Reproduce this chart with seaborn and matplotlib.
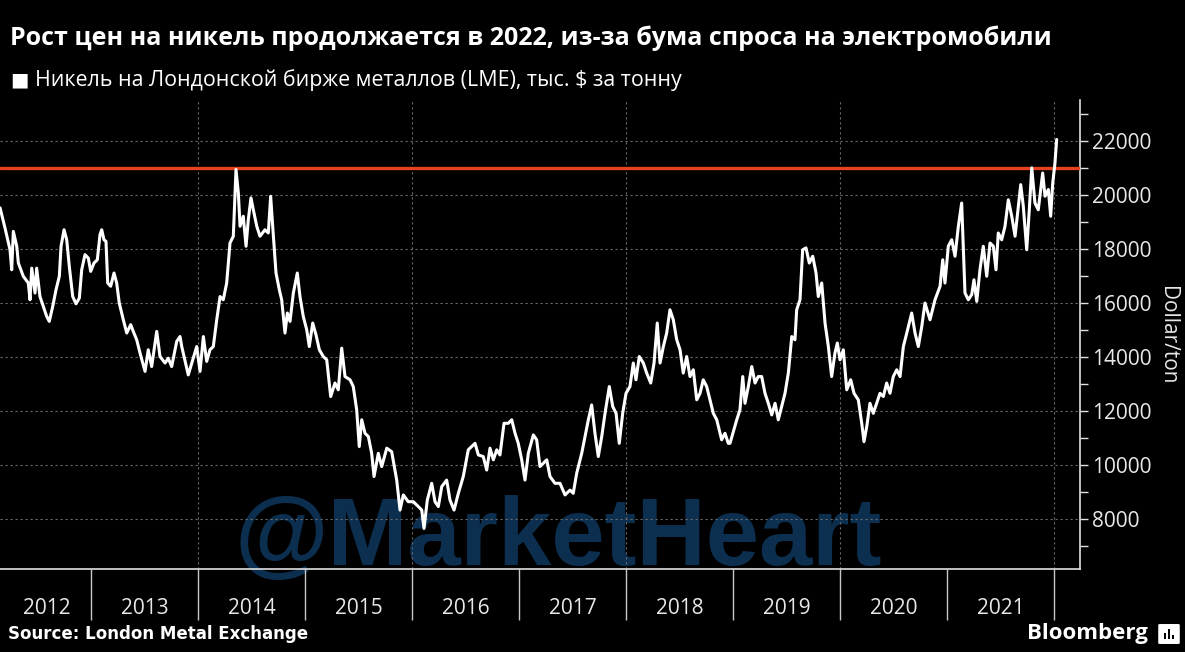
import numpy as np
import pandas as pd
import seaborn as sns
import matplotlib.pyplot as plt
from matplotlib.ticker import FixedLocator, StrMethodFormatter
from matplotlib.patches import FancyBboxPatch, Rectangle

title = 'Рост цен на никель продолжается в 2022, из-за бума спроса на электромобили'
subtitle = 'Никель на Лондонской бирже металлов (LME), тыс. $ за тонну'
source = 'Source: London Metal Exchange'
y_label = 'Dollar/ton'
watermark = '@MarketHeart'

# годы на оси: подписи в середине года, разделители на границах
year_labels = ['2012', '2013', '2014', '2015', '2016', '2017', '2018', '2019', '2020', '2021']
year_label_pos = [2012.59, 2013.5, 2014.5, 2015.5, 2016.5, 2017.5, 2018.5, 2019.5, 2020.5, 2021.5]
year_bounds = [2013, 2014, 2015, 2016, 2017, 2018, 2019, 2020, 2021, 2022]
grid_years = [2014, 2016, 2018, 2020, 2022]
y_major = [8000, 10000, 12000, 14000, 16000, 18000, 20000, 22000]
y_minor = [7000, 9000, 11000, 13000, 15000, 17000, 19000, 21000, 23000]
level = 21000

# цена никеля LME, $/т
dates = [
    2012.150, 2012.196, 2012.243, 2012.259, 2012.274, 2012.306, 2012.321, 2012.367, 2012.414, 2012.430,
    2012.446, 2012.477, 2012.492, 2012.523, 2012.586, 2012.610, 2012.642, 2012.673, 2012.704, 2012.720,
    2012.748, 2012.773, 2012.797, 2012.829, 2012.860, 2012.891, 2012.913, 2012.944, 2012.975, 2012.997,
    2013.028, 2013.059, 2013.084, 2013.100, 2013.121, 2013.140, 2013.156, 2013.184, 2013.215, 2013.240,
    2013.264, 2013.302, 2013.334, 2013.371, 2013.395, 2013.427, 2013.458, 2013.505, 2013.535, 2013.567,
    2013.614, 2013.645, 2013.692, 2013.722, 2013.754, 2013.801, 2013.832,
    2013.848, 2013.909, 2013.988, 2014.019, 2014.050, 2014.081, 2014.112, 2014.143, 2014.175, 2014.206,
    2014.236, 2014.268, 2014.299, 2014.330, 2014.355, 2014.377, 2014.393, 2014.423, 2014.449, 2014.470,
    2014.495, 2014.517, 2014.549, 2014.579, 2014.626, 2014.657, 2014.679, 2014.698, 2014.729, 2014.760,
    2014.782, 2014.813, 2014.835, 2014.860, 2014.891, 2014.928, 2014.953, 2014.984, 2015.016, 2015.040,
    2015.072, 2015.103, 2015.134, 2015.171, 2015.203, 2015.240, 2015.280, 2015.311, 2015.343, 2015.374,
    2015.421,
    2015.451, 2015.483, 2015.507, 2015.530, 2015.561, 2015.592, 2015.623, 2015.645, 2015.685, 2015.717,
    2015.764, 2015.810, 2015.857, 2015.888, 2015.919, 2015.965, 2016.012, 2016.059, 2016.091, 2016.112,
    2016.143, 2016.184, 2016.215, 2016.246, 2016.278, 2016.324, 2016.355, 2016.393, 2016.433, 2016.479,
    2016.526, 2016.558, 2016.589, 2016.620, 2016.666, 2016.698, 2016.729, 2016.760, 2016.792, 2016.822,
    2016.860, 2016.900, 2016.932, 2016.963, 2016.993, 2017.025, 2017.056, 2017.087, 2017.134, 2017.165,
    2017.196,
    2017.259, 2017.290, 2017.336, 2017.383, 2017.430, 2017.477, 2017.507, 2017.539, 2017.586, 2017.617,
    2017.648, 2017.679, 2017.710, 2017.741, 2017.773, 2017.804, 2017.844, 2017.876, 2017.907, 2017.937,
    2017.969, 2018.000, 2018.037, 2018.068, 2018.093, 2018.124, 2018.162, 2018.193, 2018.231, 2018.262,
    2018.292, 2018.318, 2018.349, 2018.380, 2018.411, 2018.442, 2018.474, 2018.505, 2018.535, 2018.567,
    2018.598, 2018.629, 2018.661, 2018.692, 2018.722, 2018.754, 2018.785, 2018.816, 2018.848, 2018.894,
    2018.925, 2018.956,
    2018.972, 2019.035, 2019.065, 2019.091, 2019.112, 2019.143, 2019.175, 2019.206, 2019.236, 2019.268,
    2019.299, 2019.330, 2019.362, 2019.393, 2019.423, 2019.455, 2019.486, 2019.517, 2019.549, 2019.579,
    2019.595, 2019.626, 2019.651, 2019.682, 2019.713, 2019.745, 2019.776, 2019.797, 2019.829, 2019.860,
    2019.891, 2019.922, 2019.953, 2019.975, 2020.000, 2020.031, 2020.063, 2020.100, 2020.131, 2020.171,
    2020.203, 2020.224, 2020.250, 2020.280, 2020.311, 2020.343, 2020.374, 2020.405, 2020.436, 2020.467,
    2020.498, 2020.530,
    2020.561, 2020.592, 2020.624, 2020.670, 2020.701, 2020.732, 2020.764, 2020.794, 2020.841, 2020.888,
    2020.935, 2020.960, 2020.981, 2021.012, 2021.044, 2021.075, 2021.106, 2021.137, 2021.152, 2021.168,
    2021.199, 2021.231, 2021.252, 2021.278, 2021.308, 2021.339, 2021.371, 2021.402, 2021.433, 2021.458,
    2021.479, 2021.511, 2021.542, 2021.573, 2021.605, 2021.636, 2021.667, 2021.689, 2021.713, 2021.745,
    2021.769, 2021.792, 2021.822, 2021.853, 2021.894, 2021.916, 2021.947, 2021.969, 2021.988, 2022.009,
    2022.025,
]
price = [
    19510, 18770, 17960, 17220, 18640, 18090, 17470, 16980, 16730, 16110,
    17280, 16360, 17280, 16230, 15490, 15310, 15860, 16480, 16980, 18090,
    18700, 18330, 17350, 16230, 15960, 16170, 17220, 17780, 17650, 17160,
    17470, 17590, 18520, 18700, 18330, 18270, 16730, 16610, 17100, 16730,
    15990, 15370, 14880, 15190, 14940, 14630, 14140, 13460, 14260, 13640,
    14940, 14010, 13770, 13950, 13640, 14570, 14750,
    14380, 13330, 14380, 13460, 14750, 13830, 14260, 14380, 15370, 16230,
    16110, 16730, 18210, 18460, 20930, 20060, 18830, 19200, 18090, 19070,
    19880, 19440, 18830, 18460, 18700, 18580, 19940, 18830, 17100, 16480,
    16110, 14880, 15620, 15310, 16360, 17100, 16230, 15490, 15000, 14380,
    15250, 14810, 14260, 14010, 13890, 12530, 13030, 12780, 14320, 13270,
    13150,
    12900, 12040, 10680, 11670, 11170, 11050, 10430, 9570, 10430, 9940,
    10620, 10490, 9440, 8330, 8890, 8640, 8640, 8460, 8330, 7650,
    8700, 9320, 8640, 8460, 9200, 9440, 8700, 8330, 8950, 9570,
    10560, 10680, 10800, 10370, 10310, 9810, 10620, 10190, 10560, 10370,
    11540, 11540, 11670, 11170, 10800, 10190, 9440, 10430, 11110, 10930,
    9940,
    10190, 9570, 9320, 9320, 8890, 9070, 8950, 9690, 10430, 11050,
    11670, 12220, 11170, 10310, 11050, 11910, 12900, 12160, 11910, 10800,
    11910, 12650, 12900, 13770, 13150, 14010, 13770, 13400, 13030, 13770,
    15250, 13770, 14380, 14880, 15740, 15370, 14630, 14260, 13400, 14010,
    13270, 13520, 12410, 12650, 13150, 12900, 12410, 11910, 11670, 10930,
    11170, 10800,
    10800, 11670, 12040, 13270, 12280, 12900, 13640, 13030, 13270, 13270,
    12650, 12280, 11850, 12280, 11670, 12160, 12650, 13400, 14750, 14630,
    15740, 16110, 17960, 18030, 17470, 17720, 17100, 16230, 16730, 15250,
    14380, 13270, 14140, 14510, 13890, 14260, 12780, 13150, 12650, 12410,
    11540, 10860, 11420, 12280, 11910, 12280, 12650, 12530, 13030, 12650,
    13270, 13520,
    13270, 14380, 14880, 15620, 14880, 14380, 15120, 15990, 15370, 16110,
    16610, 17590, 16730, 18090, 18330, 17720, 18830, 19690, 18090, 16360,
    16110, 16300, 16850, 16050, 17220, 18090, 16980, 18210, 18090, 17220,
    18580, 18330, 18830, 19810, 19200, 18460, 19570, 20370, 19570, 17960,
    19440, 20990, 19690, 19440, 20800, 19940, 20190, 19200, 20430, 21170,
    22040,
]

df = pd.DataFrame({'date': dates, 'price': price})

sns.set_style('dark')
plt.rcParams['font.family'] = ['Open Sans', 'DejaVu Sans']

fig = plt.figure(figsize=(11.85, 6.52), dpi=100, facecolor='black')
ax = fig.add_axes([0, 0.1273, 0.9114, 0.7193])
ax.set_facecolor('black')

ax.text(0.517, 0.008, watermark, transform=ax.transAxes, ha='center', va='baseline',
        fontsize=69, fontweight='bold', color='#0c2f50', zorder=0.3,
        family=['Liberation Sans', 'DejaVu Sans'])

sns.lineplot(data=df, x='date', y='price', color='white', linewidth=2.2, ax=ax, zorder=4)
ax.axhline(level, color='#e5431e', linewidth=2.4, zorder=3)

ax.set_xlim(2012.1495, 2022.243)
ax.set_ylim(6150, 23500)

# сетка
ax.grid(False)
for v in y_major:
    ax.axhline(v, color='#6a6a6a', linewidth=0.8, linestyle=(0, (2, 2.5)), zorder=1)
for g in grid_years:
    ax.axvline(g, color='#6a6a6a', linewidth=0.8, linestyle=(0, (2, 2.5)), zorder=1)

# ось X
ax.xaxis.set_major_locator(FixedLocator(year_bounds))
ax.xaxis.set_minor_locator(FixedLocator(year_label_pos))
ax.set_xticklabels([''] * len(year_bounds))
ax.set_xticklabels(year_labels, minor=True)
ax.tick_params(axis='x', which='major', length=37, width=1, color='#c8c8c8', direction='out', bottom=True)
ax.tick_params(axis='x', which='minor', length=0, pad=21, labelsize=15, labelcolor='#e8e8e8', bottom=True)

# ось Y справа
ax.yaxis.tick_right()
ax.yaxis.set_major_locator(FixedLocator(y_major))
ax.yaxis.set_minor_locator(FixedLocator(y_minor))
ax.yaxis.set_major_formatter(StrMethodFormatter('{x:.0f}'))
ax.tick_params(axis='y', which='both', right=True, left=False, labelright=True, labelleft=False,
               length=6, width=1, color='#e0e0e0', direction='out', pad=2.5,
               labelsize=15, labelcolor='#e8e8e8')
ax.set_xlabel('')
ax.set_ylabel('')

for s in ['left', 'top']:
    ax.spines[s].set_visible(False)
for s in ['right', 'bottom']:
    ax.spines[s].set_visible(True)
    ax.spines[s].set_color('#e0e0e0')
    ax.spines[s].set_linewidth(1.2)

fig.text(1167 / 1185, 1 - 335 / 652, y_label, rotation=-90, ha='center', va='center',
         fontsize=15, color='#e8e8e8')

# заголовки
fig.text(10 / 1185, 1 - 38 / 652, title, ha='left', va='center', fontsize=18,
         fontweight='bold', color='white')
fig.text(10 / 1185, 1 - 80 / 652, '■', ha='left', va='center', fontsize=14,
         color='white', family=['DejaVu Sans'])
fig.text(35 / 1185, 1 - 80 / 652, subtitle, ha='left', va='center', fontsize=15.4,
         color='white')

fig.text(8 / 1185, 1 - 634 / 652, source, ha='left', va='center', fontsize=12,
         fontweight='bold', color='white', family=['DejaVu Sans'])
fig.text(1148 / 1185, 1 - 633 / 652, 'Bloomberg', ha='right', va='center', fontsize=16,
         fontweight='bold', color='white')

# значок Bloomberg
fig.patches.append(FancyBboxPatch((1160 / 1185, 1 - 643 / 652), 18 / 1185, 18 / 652,
                                  boxstyle='round,pad=0.0015', transform=fig.transFigure,
                                  facecolor='white', edgecolor='none'))
for bx, bh in [(1164, 6), (1168, 10), (1172, 4)]:
    fig.patches.append(Rectangle((bx / 1185, 1 - 639 / 652), 2 / 1185, bh / 652,
                                 transform=fig.transFigure, facecolor='black', edgecolor='none'))

fig.savefig('out.png', dpi=100, facecolor='black')
